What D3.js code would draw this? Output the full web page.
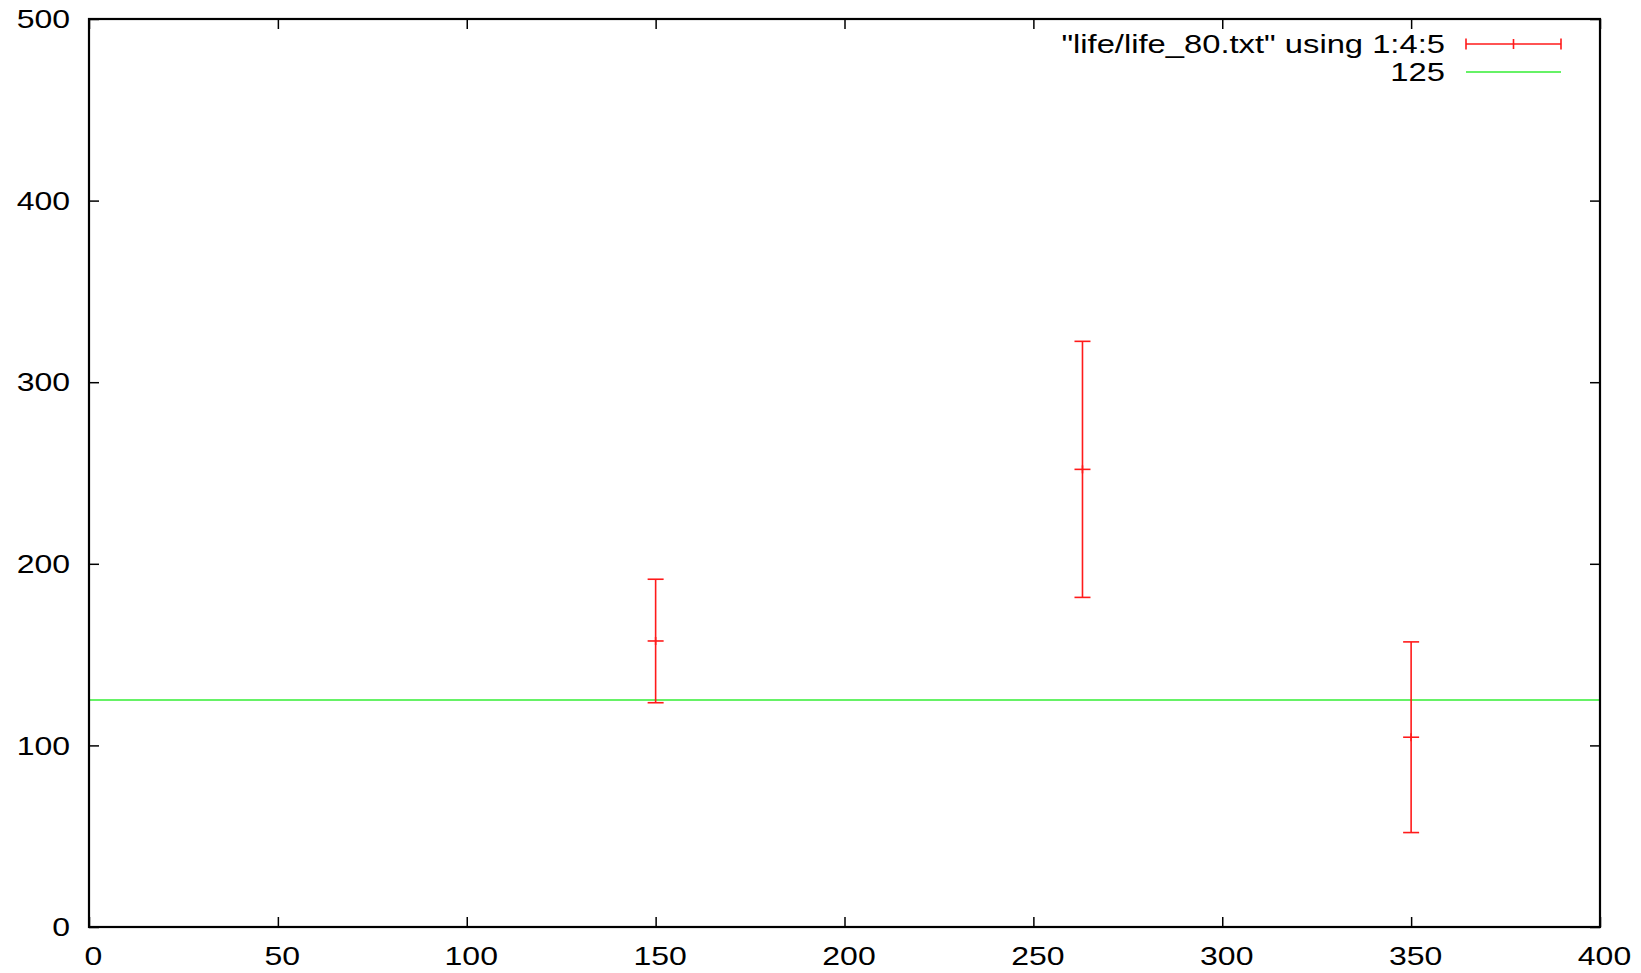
<!DOCTYPE html>
<html>
<head>
<meta charset="utf-8">
<script src="https://cdn.jsdelivr.net/npm/d3@7"></script>
<style>
  html, body { margin: 0; padding: 0; background: #fff; }
  svg { display: block; }
  text { font-family: "Liberation Sans", Arial, sans-serif; font-size: 25px; fill: #000; }
</style>
</head>
<body>
<svg id="chart" width="1641" height="973"></svg>
<script>
// Data: x position, mean lifetime, and symmetric error (gnuplot "using 1:4:5")
const xs = [150, 263, 350];
const ys = [157.5, 252, 104.5];
const errs = [34, 70.5, 52.5];
const refValue = 125;
const xTicks = [0, 50, 100, 150, 200, 250, 300, 350, 400];
const yTicks = [0, 100, 200, 300, 400, 500];
const legendLabels = ['"life/life_80.txt" using 1:4:5', "125"];

const W = 1641, H = 973;
const plot = { left: 89, right: 1600, top: 19, bottom: 927 };
const axisStretch = 1.28;    // horizontal glyph stretch of the tick labels
const legendStretch = 1.31;  // horizontal glyph stretch of the key labels
const red = "#ff1a1a", green = "#33ee33";

const svg = d3.select("#chart");

const x = d3.scaleLinear().domain([0, 400]).range([plot.left, plot.right]);
const y = d3.scaleLinear().domain([0, 500]).range([plot.bottom, plot.top]);

// Axes with inward ticks on all four sides
const tickLen = 10;
const gLeft = svg.append("g").attr("transform", `translate(${plot.left},0)`)
  .call(d3.axisLeft(y).tickValues(yTicks).tickSize(-tickLen).tickFormat(d3.format("d")));
const gRight = svg.append("g").attr("transform", `translate(${plot.right},0)`)
  .call(d3.axisRight(y).tickValues(yTicks).tickSize(-tickLen).tickFormat(""));
const gBottom = svg.append("g").attr("transform", `translate(0,${plot.bottom})`)
  .call(d3.axisBottom(x).tickValues(xTicks).tickSize(-tickLen).tickFormat(d3.format("d")));
const gTop = svg.append("g").attr("transform", `translate(0,${plot.top})`)
  .call(d3.axisTop(x).tickValues(xTicks).tickSize(-tickLen).tickFormat(""));

[gLeft, gRight, gBottom, gTop].forEach(g => {
  g.attr("font-size", null).attr("font-family", null);
  g.select(".domain").remove();
  g.selectAll(".tick line").attr("stroke", "#000").attr("stroke-width", 1.5);
});

gLeft.selectAll(".tick text")
  .attr("x", 0).attr("dy", "0.35em")
  .attr("text-anchor", "end")
  .attr("transform", `translate(-19,0) scale(${axisStretch},1)`);
gBottom.selectAll(".tick text")
  .attr("y", 0).attr("dy", "0.35em")
  .attr("text-anchor", "middle")
  .attr("transform", `translate(4,29) scale(${axisStretch},1)`);

// Reference line at 125
svg.append("line")
  .attr("x1", x(0)).attr("x2", x(400))
  .attr("y1", y(refValue)).attr("y2", y(refValue))
  .attr("stroke", green).attr("stroke-width", 1.6);

// Error bars
const capHalf = 8;
const pts = xs.map((d, i) => ({ x: d, y: ys[i], e: errs[i] }));
const eb = svg.append("g").attr("stroke", red).attr("stroke-width", 1.6).attr("fill", "none");
const bar = eb.selectAll("g").data(pts).join("g");
bar.append("line")
  .attr("x1", d => x(d.x)).attr("x2", d => x(d.x))
  .attr("y1", d => y(d.y + d.e)).attr("y2", d => y(d.y - d.e));
bar.append("line")
  .attr("x1", d => x(d.x) - capHalf).attr("x2", d => x(d.x) + capHalf)
  .attr("y1", d => y(d.y + d.e)).attr("y2", d => y(d.y + d.e));
bar.append("line")
  .attr("x1", d => x(d.x) - capHalf).attr("x2", d => x(d.x) + capHalf)
  .attr("y1", d => y(d.y - d.e)).attr("y2", d => y(d.y - d.e));
// "+" point marker at the mean
bar.append("line")
  .attr("x1", d => x(d.x) - capHalf).attr("x2", d => x(d.x) + capHalf)
  .attr("y1", d => y(d.y)).attr("y2", d => y(d.y));
bar.append("line")
  .attr("x1", d => x(d.x)).attr("x2", d => x(d.x))
  .attr("y1", d => y(d.y) - 4).attr("y2", d => y(d.y) + 4);

// Legend
const legend = svg.append("g");
const legTextRight = 1445, sampleL = 1466, sampleR = 1561;
const rowY = [44, 72];
legendLabels.forEach((lab, i) => {
  legend.append("g").attr("transform", `translate(${legTextRight},${rowY[i]})`)
    .append("text").attr("text-anchor", "end").attr("dy", "0.35em")
    .attr("transform", `scale(${legendStretch},1)`).text(lab);
});
const ls = legend.append("g").attr("stroke", red).attr("stroke-width", 1.6);
ls.append("line").attr("x1", sampleL).attr("x2", sampleR).attr("y1", rowY[0]).attr("y2", rowY[0]);
[sampleL, sampleR].forEach(px => ls.append("line").attr("x1", px).attr("x2", px).attr("y1", rowY[0] - 5.5).attr("y2", rowY[0] + 5.5));
const mid = (sampleL + sampleR) / 2;
ls.append("line").attr("x1", mid).attr("x2", mid).attr("y1", rowY[0] - 5).attr("y2", rowY[0] + 5);
legend.append("line").attr("x1", sampleL).attr("x2", sampleR).attr("y1", rowY[1]).attr("y2", rowY[1])
  .attr("stroke", green).attr("stroke-width", 1.6);

// Plot border
svg.append("rect")
  .attr("x", plot.left).attr("y", plot.top)
  .attr("width", plot.right - plot.left).attr("height", plot.bottom - plot.top)
  .attr("fill", "none").attr("stroke", "#000").attr("stroke-width", 2.2);
</script>
</body>
</html>
